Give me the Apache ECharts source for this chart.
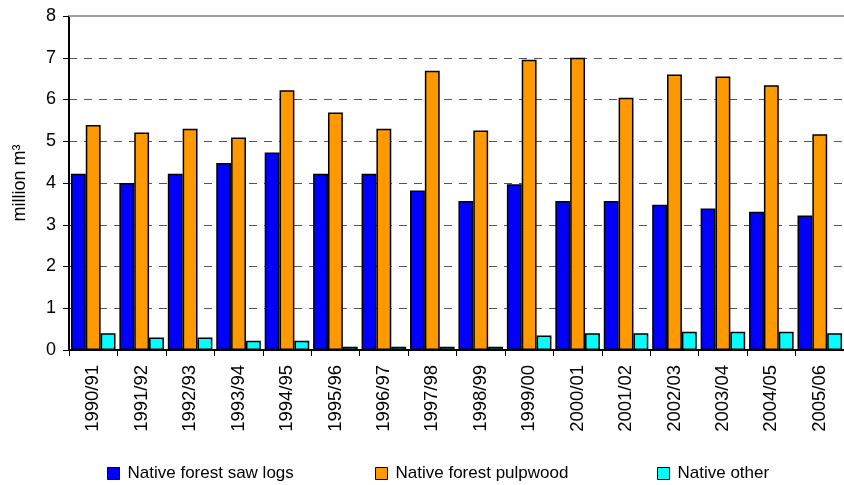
<!DOCTYPE html>
<html>
<head>
<meta charset="utf-8">
<script src="https://cdn.jsdelivr.net/npm/echarts@6/dist/echarts.min.js"></script>
<style>
html,body{margin:0;padding:0;background:#fff;}
#chart{width:844px;height:485px;}
</style>
</head>
<body>
<div id="chart"></div>
<script>
const categories = ['1990/91','1991/92','1992/93','1993/94','1994/95','1995/96','1996/97','1997/98','1998/99','1999/00','2000/01','2001/02','2002/03','2003/04','2004/05','2005/06'];
const sawLogs = [4.22,4.00,4.22,4.48,4.73,4.22,4.22,3.82,3.57,3.97,3.57,3.57,3.48,3.39,3.31,3.22];
const pulpwood = [5.39,5.21,5.30,5.09,6.22,5.69,5.30,6.69,5.26,6.95,7.00,6.04,6.60,6.55,6.34,5.17];
const other = [0.40,0.30,0.30,0.22,0.22,0.08,0.08,0.08,0.08,0.35,0.40,0.40,0.44,0.44,0.44,0.40];
const seriesNames = ['Native forest saw logs','Native forest pulpwood','Native other'];
const yTicks = {min:0, max:8, interval:1};

const font = 'Arial, "Liberation Sans", sans-serif';
const chart = echarts.init(document.getElementById('chart'), null, {renderer:'canvas'});
const barStyle = c => ({color:c, borderColor:'#000', borderWidth:1.5});
const legendLefts = [107, 375, 657];
chart.setOption({
  animation:false,
  backgroundColor:'#fff',
  grid:{left:69, top:16, right:-4, bottom:135, containLabel:false},
  legend:seriesNames.map((n,i)=>({
    left:legendLefts[i], top:465, padding:0, itemWidth:12, itemHeight:12,
    icon:'rect',
    textStyle:{fontFamily:font, fontSize:17, color:'#000', padding:[0,0,0,3]},
    data:[{name:n, itemStyle:{borderColor:'#000', borderWidth:1}}]
  })),
  xAxis:[{
    type:'category', data:categories, position:'bottom',
    axisLine:{lineStyle:{color:'#000', width:2}},
    axisTick:{show:true, alignWithLabel:false, length:6, lineStyle:{color:'#000', width:1}},
    axisLabel:{rotate:90, margin:15, fontFamily:font, fontSize:18.5, color:'#000', interval:0}
  },{
    type:'category', data:categories, position:'top',
    axisLine:{lineStyle:{color:'#a0a0a0', width:2}},
    axisTick:{show:false}, axisLabel:{show:false}
  }],
  yAxis:{
    type:'value', min:yTicks.min, max:yTicks.max, interval:yTicks.interval,
    name:'million m³', nameLocation:'middle', nameGap:40, nameRotate:90,
    nameTextStyle:{fontFamily:font, fontSize:18, color:'#000'},
    axisLine:{show:true, lineStyle:{color:'#000', width:2}},
    axisTick:{show:true, length:6, lineStyle:{color:'#000'}},
    axisLabel:{fontFamily:font, fontSize:18, color:'#000', margin:13},
    splitLine:{show:true, lineStyle:{color:'#555', width:1, type:[8,7]}}
  },
  series:[
    {name:seriesNames[0], type:'bar', data:sawLogs, itemStyle:barStyle('#0000ff'), barGap:'0%', barCategoryGap:'8%'},
    {name:seriesNames[1], type:'bar', data:pulpwood, itemStyle:barStyle('#ff9900'), barGap:'0%', barCategoryGap:'8%'},
    {name:seriesNames[2], type:'bar', data:other, itemStyle:barStyle('#00ffff'), barGap:'0%', barCategoryGap:'8%'}
  ]
});
</script>
</body>
</html>
